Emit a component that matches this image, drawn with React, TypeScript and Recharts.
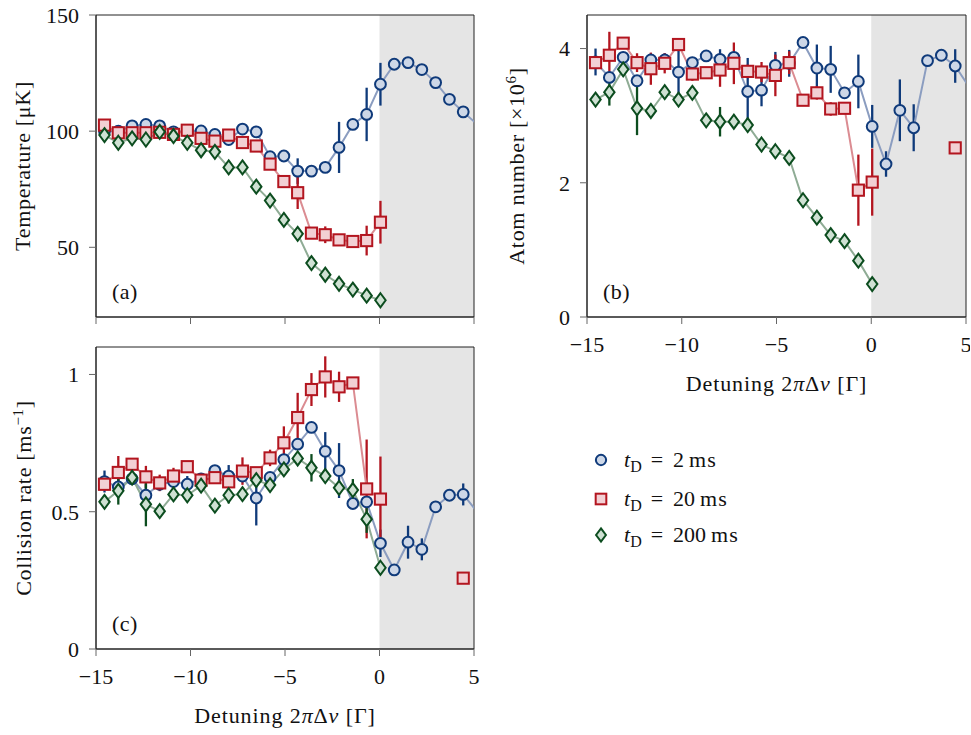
import React from 'react';
import { LineChart, Line, XAxis, YAxis, ErrorBar, ReferenceArea } from 'recharts';

// Detuning 2πΔν [Γ]
const detuning = [
  -14.55, -13.82, -13.09, -12.36, -11.63, -10.9, -10.17, -9.44, -8.71, -7.98,
  -7.25, -6.52, -5.79, -5.06, -4.33, -3.6, -2.87, -2.14, -1.41, -0.68,
  0.05, 0.78, 1.51, 2.24, 2.97, 3.7, 4.43, 5.16,
];

// (a) Temperature [μK]
const tempBlue = [100, 100, 102.3, 102.9, 102.3, 99.7, 100, 100.1, 98.6, 96.4, 100.9, 99.7, 89, 89.3, 82.8, 82.8, 84.4, 93, 102.9, 107.2, 120.2, 128.8, 129.5, 126.5, 120.9, 113.7, 108.3, 103];
const tempBlueErr = [null, null, null, null, null, null, null, null, null, null, null, null, null, null, 5.5, null, 1.5, 11, null, 11.5, 9.2, null, 1.8, null, null, 1.5, null, null];
const tempRed = [102.6, 99.3, 99.3, 99.3, 99.5, 98.6, 100.4, 96.9, 95.7, 98.3, 95.1, 93.6, 85.8, 78.3, 73.5, 56.1, 55.4, 53.2, 52.5, 52.9, 60.8];
const tempRedErr = [null, null, null, null, null, null, null, null, null, null, null, null, null, null, 7, null, 3.6, null, null, 6.4, 9.2];
const tempGreen = [98.3, 95, 96.9, 96.4, 99.7, 97.9, 95, 91.8, 91.1, 84.4, 84.4, 76.1, 70.1, 61.8, 55.8, 43.2, 38.2, 34.3, 31.8, 29.2, 27.2];
const tempGreenErr: (number | null)[] = [];

// (b) Atom number [×10^6]
const atomBlue = [3.8, 3.57, 3.87, 3.52, 3.83, 3.83, 3.65, 3.79, 3.89, 3.84, 3.87, 3.36, 3.38, 3.75, 3.78, 4.09, 3.71, 3.69, 3.34, 3.51, 2.84, 2.28, 3.08, 2.82, 3.82, 3.9, 3.74, 3.43];
const atomBlueErr = [0.2, 0.05, null, null, 0.1, 0.1, 0.36, null, null, 0.15, null, 0.5, 0.24, 0.2, 0.2, null, 0.35, 0.35, null, 0.4, 0.32, 0.19, 0.46, 0.35, null, null, 0.25, null];
const atomRed = [3.79, 3.9, 4.08, 3.79, 3.7, 3.78, 4.06, 3.62, 3.64, 3.68, 3.78, 3.66, 3.65, 3.6, 3.79, 3.23, 3.34, 3.1, 3.11, 1.89, 2.01, null, null, null, null, null, 2.52];
const atomRedErr = [null, 0.35, null, 0.14, 0.24, 0.15, null, 0.1, null, 0.25, 0.31, 0.1, 0.15, 0.31, 0.17, 0.05, 0.1, 0.1, null, 0.53, 0.5];
const atomGreen = [3.24, 3.35, 3.69, 3.11, 3.07, 3.35, 3.24, 3.34, 2.93, 2.91, 2.91, 2.86, 2.57, 2.47, 2.37, 1.74, 1.48, 1.22, 1.13, 0.84, 0.49];
const atomGreenErr = [null, 0.2, null, 0.4, null, null, null, null, null, 0.22];

// (c) Collision rate [ms^-1]
const collBlue = [0.61, 0.59, 0.62, 0.56, 0.6, 0.61, 0.6, 0.62, 0.65, 0.63, 0.63, 0.55, 0.625, 0.69, 0.746, 0.807, 0.72, 0.65, 0.53, 0.536, 0.385, 0.288, 0.389, 0.363, 0.518, 0.56, 0.563, 0.5];
const collBlueErr = [0.04, 0.03, null, 0.04, null, null, 0.03, null, null, 0.04, null, 0.1, null, null, null, null, 0.07, 0.1, null, null, 0.05, 0.02, 0.06, 0.04, null, null, 0.04, null];
const collRed = [0.6, 0.643, 0.673, 0.627, 0.605, 0.63, 0.664, 0.615, 0.624, 0.609, 0.648, 0.642, 0.696, 0.751, 0.843, 0.945, 0.991, 0.955, 0.969, 0.583, 0.546, null, null, null, null, null, 0.258];
const collRedErr = [null, 0.06, null, 0.04, 0.03, 0.03, null, null, null, null, 0.05, null, 0.03, 0.06, 0.09, 0.06, 0.075, 0.055, null, 0.18, 0.155];
const collGreen = [0.536, 0.576, 0.624, 0.527, 0.502, 0.563, 0.56, 0.595, 0.522, 0.56, 0.564, 0.615, 0.597, 0.654, 0.694, 0.66, 0.63, 0.587, 0.579, 0.473, 0.296];
const collGreenErr = [null, 0.05, null, 0.08, null, null, null, null, null, 0.03, null, null, null, null, null, 0.05, null, null, 0.04, 0.05];

const xTicks = [-15, -10, -5, 0, 5];
const tempTicks = [50, 100, 150];
const atomTicks = [0, 2, 4];
const collTicks = [0, 0.5, 1];
const legendLabels = ['2', '20', '200'];

const X_MIN = -15;
const X_MAX = 5;

const FONT = '"Liberation Serif", "DejaVu Serif", serif';
const COLORS = {
  b: { stroke: '#0f3a7a', fill: '#cdd7e7', line: '#8b9dc0' },
  r: { stroke: '#b3151f', fill: '#f2d0d4', line: '#db8c92' },
  g: { stroke: '#0c4d1f', fill: '#cfe1d3', line: '#8fac95' },
};

type Kind = 'circle' | 'square' | 'diamond';

function Marker({ kind, cx, cy, c, s = 1 }: { kind: Kind; cx: number; cy: number; c: any; s?: number }) {
  if (kind === 'circle') {
    return <circle cx={cx} cy={cy} r={5.4 * s} fill={c.fill} stroke={c.stroke} strokeWidth={2} />;
  }
  if (kind === 'square') {
    const h = 5.6 * s;
    return <rect x={cx - h} y={cy - h} width={2 * h} height={2 * h} fill={c.fill} stroke={c.stroke} strokeWidth={2} />;
  }
  const w = 5.2 * s;
  const h = 7 * s;
  return (
    <polygon
      points={`${cx},${cy - h} ${cx + w},${cy} ${cx},${cy + h} ${cx - w},${cy}`}
      fill={c.fill}
      stroke={c.stroke}
      strokeWidth={2}
    />
  );
}

const makeDot = (kind: Kind, c: any) => (props: any) => {
  const { cx, cy, index, payload } = props;
  const outside = payload && (payload.x > X_MAX || payload.x < X_MIN);
  if (cx == null || cy == null || Number.isNaN(cx) || Number.isNaN(cy) || props.value == null || outside) {
    return <g key={`e-${kind}-${index}`} />;
  }
  return (
    <g key={`d-${kind}-${index}`}>
      <Marker kind={kind} cx={cx} cy={cy} c={c} />
    </g>
  );
};

function buildRows(b: any[], bE: any[], r: any[], rE: any[], g: any[], gE: any[]) {
  return detuning.map((x, i) => ({
    x,
    b: b[i] ?? null,
    bErr: bE[i] ?? null,
    r: r[i] ?? null,
    rErr: rE[i] ?? null,
    g: g[i] ?? null,
    gErr: gE[i] ?? null,
  }));
}

const tempRows = buildRows(tempBlue, tempBlueErr, tempRed, tempRedErr, tempGreen, tempGreenErr);
const atomRows = buildRows(atomBlue, atomBlueErr, atomRed, atomRedErr, atomGreen, atomGreenErr);
const collRows = buildRows(collBlue, collBlueErr, collRed, collRedErr, collGreen, collGreenErr);

const fmtX = (v: number) => (v < 0 ? `\u2212${Math.abs(v)}` : String(v));

const DetuningTitle = ({ x, y }: { x: number; y: number }) => (
  <text x={x} y={y} textAnchor="middle" fontSize={22} letterSpacing={0.9} fontFamily={FONT} fill="#111">
    Detuning 2<tspan fontStyle="italic">π</tspan>Δ<tspan fontStyle="italic">ν</tspan> [Γ]
  </text>
);

type PanelProps = {
  rows: any[];
  left: number;
  top: number;
  width: number;
  height: number;
  margin: { top: number; right: number; bottom: number; left: number };
  yAxisWidth: number;
  xAxisHeight: number;
  yDomain: [number, number];
  yTicks: number[];
  showXLabels: boolean;
  yTitle: React.ReactNode;
  yTitleOffset: number;
  panelLabel: string;
};

function Panel(p: PanelProps) {
  const plotX = p.margin.left + p.yAxisWidth;
  const plotY = p.margin.top;
  const plotW = p.width - p.margin.right - plotX;
  const plotH = p.height - p.margin.bottom - p.xAxisHeight - plotY;

  const yTitle = (props: any) => {
    const vb = props && props.viewBox && props.viewBox.height ? props.viewBox : { x: p.margin.left, y: plotY, width: p.yAxisWidth, height: plotH };
    const cx = vb.x + p.yTitleOffset;
    const cy = vb.y + vb.height / 2;
    return (
      <text x={cx} y={cy} transform={`rotate(-90 ${cx} ${cy})`} textAnchor="middle" fontSize={22} letterSpacing={0.7} fontFamily={FONT} fill="#111">
        {p.yTitle}
      </text>
    );
  };

  const xTitle = (props: any) => {
    if (!p.showXLabels) return null;
    const vb = props && props.viewBox && props.viewBox.width ? props.viewBox : { x: plotX, y: plotY + plotH, width: plotW, height: p.xAxisHeight };
    return <DetuningTitle x={vb.x + vb.width / 2} y={vb.y + 74} />;
  };

  const panelLbl = (props: any) => {
    const vb = props && props.viewBox && props.viewBox.width ? props.viewBox : { x: plotX, y: plotY, width: plotW, height: plotH };
    return (
      <text x={vb.x + 16} y={vb.y + vb.height - 18} fontSize={22} letterSpacing={0.5} fontFamily={FONT} fill="#111">
        {p.panelLabel}
      </text>
    );
  };

  const tickStyle = { fontSize: 22, fill: '#111', fontFamily: FONT };

  return (
    <div style={{ position: 'absolute', left: p.left, top: p.top }}>
      <LineChart width={p.width} height={p.height} data={p.rows} margin={p.margin}>
        <ReferenceArea x1={0} x2={X_MAX} fill="#e5e5e5" fillOpacity={1} stroke="none" />
        <ReferenceArea x1={X_MIN} x2={X_MAX} fill="none" stroke="#222" strokeWidth={1} label={panelLbl} />
        <XAxis
          dataKey="x"
          type="number"
          domain={[X_MIN, X_MAX]}
          ticks={xTicks}
          interval={0}
          allowDataOverflow
          height={p.xAxisHeight}
          tickSize={7}
          tickMargin={12}
          axisLine={{ stroke: '#222', strokeWidth: 1 }}
          tickLine={{ stroke: '#666', strokeWidth: 1 }}
          tick={tickStyle}
          tickFormatter={p.showXLabels ? fmtX : () => ''}
          label={xTitle}
        />
        <YAxis
          type="number"
          domain={p.yDomain}
          ticks={p.yTicks}
          interval={0}
          allowDataOverflow
          width={p.yAxisWidth}
          tickSize={7}
          tickMargin={10}
          axisLine={{ stroke: '#222', strokeWidth: 1 }}
          tickLine={{ stroke: '#666', strokeWidth: 1 }}
          tick={tickStyle}
          tickFormatter={(v: number) => String(v)}
          label={yTitle}
        />
        <Line dataKey="b" stroke={COLORS.b.line} strokeWidth={2} dot={makeDot('circle', COLORS.b)} activeDot={false} isAnimationActive={false} connectNulls={false}>
          <ErrorBar dataKey="bErr" width={0} strokeWidth={2.3} stroke={COLORS.b.stroke} direction="y" isAnimationActive={false} />
        </Line>
        <Line dataKey="r" stroke={COLORS.r.line} strokeWidth={2} dot={makeDot('square', COLORS.r)} activeDot={false} isAnimationActive={false} connectNulls={false}>
          <ErrorBar dataKey="rErr" width={0} strokeWidth={2.3} stroke={COLORS.r.stroke} direction="y" isAnimationActive={false} />
        </Line>
        <Line dataKey="g" stroke={COLORS.g.line} strokeWidth={2} dot={makeDot('diamond', COLORS.g)} activeDot={false} isAnimationActive={false} connectNulls={false}>
          <ErrorBar dataKey="gErr" width={0} strokeWidth={2.3} stroke={COLORS.g.stroke} direction="y" isAnimationActive={false} />
        </Line>
      </LineChart>
    </div>
  );
}

function LegendBox() {
  const kinds: Kind[] = ['circle', 'square', 'diamond'];
  const cs = [COLORS.b, COLORS.r, COLORS.g];
  const rowsY = [30, 69, 105];
  return (
    <div style={{ position: 'absolute', left: 560, top: 430 }}>
      <svg width={260} height={135}>
        {kinds.map((k, i) => (
          <g key={k}>
            <Marker kind={k} cx={41} cy={rowsY[i]} c={cs[i]} s={0.95} />
            <text x={64} y={rowsY[i] + 7} fontSize={22} fontFamily={FONT} fill="#111">
              <tspan fontStyle="italic">t</tspan>
              <tspan dy={5} fontSize={16}>D</tspan>
              <tspan dy={-5} dx={9}>=</tspan>
              <tspan dx={10}>{legendLabels[i]}</tspan>
              <tspan dx={5} letterSpacing={1}>ms</tspan>
            </text>
          </g>
        ))}
      </svg>
    </div>
  );
}

export default function App() {
  return (
    <div style={{ position: 'absolute', left: 0, top: 0, width: 971, height: 735, background: '#fff', fontFamily: FONT }}>
      <Panel
        rows={tempRows}
        left={0}
        top={0}
        width={480}
        height={330}
        margin={{ top: 15, right: 6, bottom: 0, left: 0 }}
        yAxisWidth={96}
        xAxisHeight={13}
        yDomain={[20, 150]}
        yTicks={tempTicks}
        showXLabels={false}
        yTitle={<>Temperature [μK]</>}
        yTitleOffset={30}
        panelLabel="(a)"
      />
      <Panel
        rows={atomRows}
        left={490}
        top={0}
        width={480}
        height={400}
        margin={{ top: 15, right: 4, bottom: 0, left: 0 }}
        yAxisWidth={97}
        xAxisHeight={83}
        yDomain={[0, 4.5]}
        yTicks={atomTicks}
        showXLabels={true}
        yTitle={<>Atom number [×10<tspan dy={-8} fontSize={15}>6</tspan><tspan dy={8}>]</tspan></>}
        yTitleOffset={34}
        panelLabel="(b)"
      />
      <Panel
        rows={collRows}
        left={0}
        top={330}
        width={480}
        height={405}
        margin={{ top: 17, right: 6, bottom: 0, left: 0 }}
        yAxisWidth={96}
        xAxisHeight={86}
        yDomain={[0, 1.1]}
        yTicks={collTicks}
        showXLabels={true}
        yTitle={<>Collision rate [ms<tspan dy={-8} fontSize={15}>−1</tspan><tspan dy={8}>]</tspan></>}
        yTitleOffset={31}
        panelLabel="(c)"
      />
      <LegendBox />
    </div>
  );
}
